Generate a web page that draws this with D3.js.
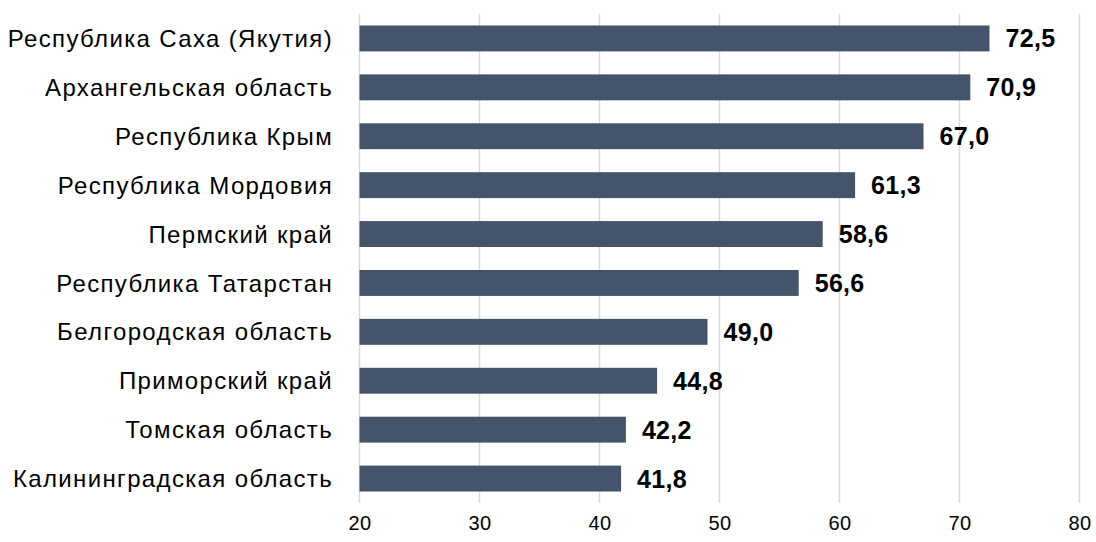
<!DOCTYPE html>
<html><head><meta charset="utf-8">
<script src="https://cdn.jsdelivr.net/npm/d3@7"></script>
<style>body{margin:0;background:#fff}svg{display:block}</style>
</head><body>
<svg id="c" width="1096" height="542"></svg>
<script>
const categories = ["Республика Саха (Якутия)","Архангельская область","Республика Крым","Республика Мордовия","Пермский край","Республика Татарстан","Белгородская область","Приморский край","Томская область","Калининградская область"];
const values = [72.5,70.9,67.0,61.3,58.6,56.6,49.0,44.8,42.2,41.8];
const tickValues = [20,30,40,50,60,70,80];

const svg = d3.select("#c");
const x = d3.scaleLinear().domain([20,80]).range([359.5,1079.5]);
const y = d3.scaleBand().domain(categories).range([14,503]).paddingInner(0.47).paddingOuter(0.235);

svg.append("g").selectAll("line").data(tickValues).join("line")
  .attr("x1",d=>x(d)).attr("x2",d=>x(d)).attr("y1",14).attr("y2",503)
  .attr("stroke","#d9d9d9").attr("stroke-width",1.5);

svg.append("g").selectAll("rect").data(values).join("rect")
  .attr("x",x(20)).attr("y",(d,i)=>y(categories[i]))
  .attr("width",d=>x(d)-x(20)).attr("height",y.bandwidth())
  .attr("fill","#44546a");

svg.append("g").selectAll("text").data(values).join("text")
  .attr("x",d=>x(d)+16).attr("y",(d,i)=>y(categories[i])+y.bandwidth()/2)
  .attr("dy","0.36em")
  .attr("font-family","Liberation Sans, Arial, sans-serif").attr("font-weight","bold").attr("font-size",25)
  .attr("letter-spacing",0.3)
  .attr("fill","#000").text(d=>d.toFixed(1).replace(".",","));

svg.append("g").selectAll("text").data(categories).join("text")
  .attr("x",333).attr("y",d=>y(d)+y.bandwidth()/2).attr("dy","0.36em")
  .attr("text-anchor","end")
  .attr("font-family","Liberation Sans, Arial, sans-serif").attr("font-size",24)
  .attr("letter-spacing",1.35)
  .attr("fill","#000").text(d=>d);

const ax = d3.axisBottom(x).tickValues(tickValues).tickSize(0).tickPadding(0).tickFormat(d=>d);
const g = svg.append("g").attr("transform","translate(0,530)").call(ax);
g.select(".domain").remove();
g.selectAll("text").attr("font-family","Liberation Sans, Arial, sans-serif").attr("font-size",20).attr("letter-spacing",0.5).attr("fill","#000").attr("dy",0).attr("y",0);
</script>
</body></html>
